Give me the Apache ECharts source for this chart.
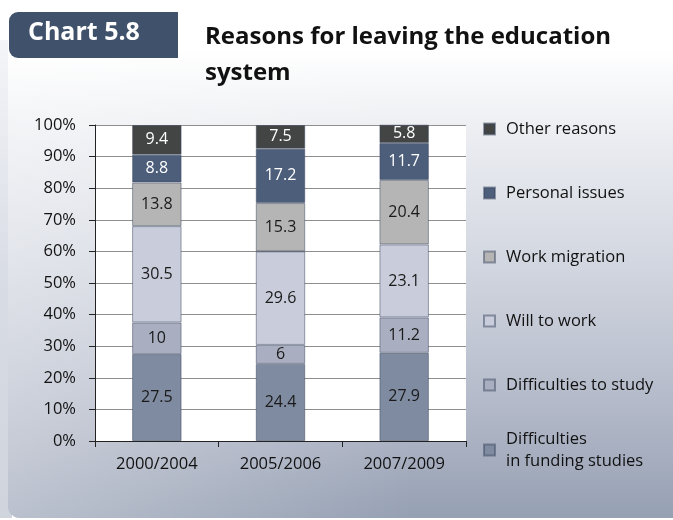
<!DOCTYPE html>
<html>
<head>
<meta charset="utf-8">
<script src="https://cdn.jsdelivr.net/npm/echarts@6/dist/echarts.min.js"></script>
<style>
  html, body { margin: 0; padding: 0; background: #fff; }
  #chart { width: 673px; height: 520px; }
</style>
</head>
<body>
<div id="chart"></div>
<script>
// Periods surveyed
const categories = ['2000/2004', '2005/2006', '2007/2009'];

// Share of respondents (%) per reason, stacked bottom to top
const fundingStudies = [27.5, 24.4, 27.9];
const difficultiesStudy = [10, 6, 11.2];
const willToWork = [30.5, 29.6, 23.1];
const workMigration = [13.8, 15.3, 20.4];
const personalIssues = [8.8, 17.2, 11.7];
const otherReasons = [9.4, 7.5, 5.8];

const yTicks = [0, 10, 20, 30, 40, 50, 60, 70, 80, 90, 100];

const FONT = '"Open Sans", "Noto Sans", sans-serif';

const seriesDefs = [
  { name: 'Difficulties in funding studies', data: fundingStudies, color: '#7f8ba0', text: '#1a1a1a' },
  { name: 'Difficulties to study', data: difficultiesStudy, color: '#a9aec1', text: '#1a1a1a' },
  { name: 'Will to work', data: willToWork, color: '#c9cddb', text: '#1a1a1a' },
  { name: 'Work migration', data: workMigration, color: '#b5b5b5', text: '#1a1a1a' },
  { name: 'Personal issues', data: personalIssues, color: '#4d5e7b', text: '#ffffff' },
  { name: 'Other reasons', data: otherReasons, color: '#434444', text: '#ffffff' }
];

const series = seriesDefs.map(d => ({
  name: d.name,
  type: 'bar',
  stack: 'total',
  barWidth: '40%',
  data: d.data,
  itemStyle: { color: d.color, borderColor: 'rgba(60,72,95,0.5)', borderWidth: 1 },
  label: {
    show: true,
    position: 'inside',
    color: d.text,
    fontFamily: FONT,
    fontSize: 16
  },
  emphasis: { disabled: true }
}));

// Legend entries, listed top to bottom with the vertical centre of each marker
const legendOrder = [
  { name: 'Other reasons', y: 129 },
  { name: 'Personal issues', y: 193 },
  { name: 'Work migration', y: 257 },
  { name: 'Will to work', y: 321 },
  { name: 'Difficulties to study', y: 385 },
  { name: 'Difficulties in funding studies', y: 448, twoLines: true }
];

const legends = legendOrder.map(l => ({
  data: [l.name],
  orient: 'vertical',
  left: 483,
  top: l.twoLines ? l.y - 31 : l.y - 11,
  padding: 0,
  icon: 'rect',
  itemWidth: 11,
  itemHeight: 11,
  selectedMode: false,
  formatter: l.twoLines ? 'Difficulties\nin funding studies' : '{name}',
  textStyle: {
    fontFamily: FONT,
    fontSize: 16.5,
    lineHeight: 22,
    color: '#111',
    padding: l.twoLines ? [22, 0, 0, 6] : [0, 0, 0, 6]
  }
}));

const chart = echarts.init(document.getElementById('chart'), null, { renderer: 'canvas' });

chart.setOption({
  animation: false,
  backgroundColor: '#ffffff',
  graphic: [
    // soft shadow strip on the left edge of the panel
    {
      type: 'rect', z: -20,
      shape: { x: 0, y: 40, width: 12, height: 478 },
      style: {
        fill: new echarts.graphic.LinearGradient(0, 0, 0, 1, [
          { offset: 0, color: '#f4f5f8' },
          { offset: 0.5, color: '#d8dce5' },
          { offset: 1, color: '#cfd4dd' }
        ])
      }
    },
    // gradient panel behind the chart
    {
      type: 'rect', z: -10,
      shape: { x: 8, y: 12, width: 680, height: 506, r: [0, 0, 0, 12] },
      style: {
        fill: new echarts.graphic.LinearGradient(0, 0, 0, 1, [
          { offset: 0, color: '#ffffff' },
          { offset: 0.075, color: '#ffffff' },
          { offset: 0.233, color: '#eceef2' },
          { offset: 0.47, color: '#d5d9e2' },
          { offset: 0.67, color: '#bfc5d2' },
          { offset: 0.866, color: '#a8afc0' },
          { offset: 1, color: '#95a0b3' }
        ])
      }
    },
    // lighter wash towards the left side of the panel
    {
      type: 'rect', z: -9,
      shape: { x: 8, y: 12, width: 680, height: 506, r: [0, 0, 0, 12] },
      style: {
        fill: new echarts.graphic.LinearGradient(0, 0, 1, 0, [
          { offset: 0, color: 'rgba(255,255,255,0.35)' },
          { offset: 0.6, color: 'rgba(255,255,255,0)' },
          { offset: 1, color: 'rgba(255,255,255,0)' }
        ])
      }
    },
    // heading tab
    {
      type: 'rect', z: -5,
      shape: { x: 9, y: 12, width: 169, height: 46, r: [9, 0, 0, 9] },
      style: { fill: '#40526b' }
    },
    {
      type: 'text', z: 5,
      left: 28, top: 20,
      style: {
        text: 'Chart 5.8',
        fill: '#ffffff',
        font: 'bold 25px ' + FONT
      }
    },
    {
      type: 'text', z: 5,
      left: 205, top: 19,
      style: {
        text: 'Reasons for leaving the education\nsystem',
        fill: '#111111',
        font: 'bold 24px ' + FONT,
        lineHeight: 36
      }
    }
  ],
  legend: legends,
  grid: {
    left: 95,
    right: 207,
    top: 125,
    bottom: 79,
    show: true,
    backgroundColor: '#ffffff',
    borderWidth: 0
  },
  xAxis: {
    type: 'category',
    data: categories,
    axisLine: { lineStyle: { color: '#222', width: 1 } },
    axisTick: { show: true, length: 6, lineStyle: { color: '#222' } },
    axisLabel: { color: '#111', fontFamily: FONT, fontSize: 16.5, margin: 15 }
  },
  yAxis: {
    type: 'value',
    min: 0,
    max: 100,
    interval: 10,
    axisLine: { show: true, lineStyle: { color: '#222', width: 1 } },
    axisTick: { show: true, length: 6, lineStyle: { color: '#222' } },
    axisLabel: {
      color: '#111', fontFamily: FONT, fontSize: 16.5, margin: 19,
      formatter: v => (yTicks.indexOf(v) >= 0 ? v + '%' : '')
    },
    splitLine: { show: true, lineStyle: { color: '#8e8e8e', width: 1 } }
  },
  series: series
});
</script>
</body>
</html>
